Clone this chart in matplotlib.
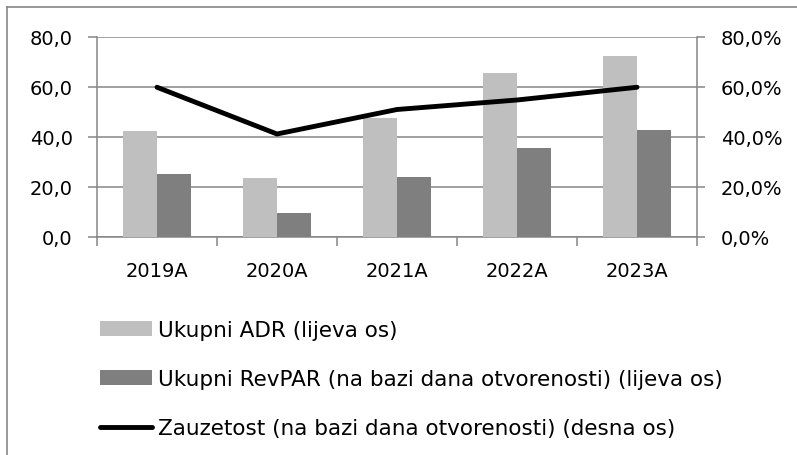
import matplotlib
matplotlib.use("Agg")
import matplotlib.pyplot as plt
from matplotlib.ticker import FuncFormatter, FixedLocator
from matplotlib.patches import Patch
from matplotlib.lines import Line2D
import numpy as np

categories = ["2019A", "2020A", "2021A", "2022A", "2023A"]
adr = [42.3, 23.7, 47.5, 65.5, 72.4]
revpar = [25.1, 9.6, 23.9, 35.6, 42.9]
occupancy = [59.9, 41.2, 51.0, 54.8, 59.9]
left_ticks = [0, 20, 40, 60, 80]
legend_labels = ["Ukupni ADR (lijeva os)",
                 "Ukupni RevPAR (na bazi dana otvorenosti) (lijeva os)",
                 "Zauzetost (na bazi dana otvorenosti) (desna os)"]

W, H = 797, 456
DPI = 100
plt.rcParams['font.family'] = ['DejaVu Sans']
fig = plt.figure(figsize=(W / DPI, H / DPI), dpi=DPI)

GRAY = "#868686"
C_ADR = "#BFBFBF"
C_REV = "#7F7F7F"

# outer frame (left and top borders visible)
fig.add_artist(plt.Line2D([7.5 / W, 7.5 / W], [0, 1 - 8 / H], transform=fig.transFigure,
                          color=GRAY, lw=1.2))
fig.add_artist(plt.Line2D([7.5 / W, 1.0], [1 - 8 / H, 1 - 8 / H], transform=fig.transFigure,
                          color=GRAY, lw=1.2))

x0, x1 = 97, 697
ytop, ybot = 38, 238
ax = fig.add_axes([x0 / W, (H - ybot) / H, (x1 - x0) / W, (ybot - ytop) / H])
ax2 = ax.twinx()

x = np.arange(len(categories))
bw = 1 / 3.5
ax.bar(x - bw / 2, adr, width=bw, color=C_ADR, zorder=3)
ax.bar(x + bw / 2, revpar, width=bw, color=C_REV, zorder=3)
ax2.plot(x, occupancy, color="black", lw=3.5, solid_capstyle="round",
         solid_joinstyle="round", zorder=4)

ax.set_xlim(-0.5, len(categories) - 0.5)
ax.set_ylim(0, 80)
ax2.set_ylim(0, 80)
ax.set_yticks(left_ticks)
ax2.set_yticks(left_ticks)
ax.yaxis.set_major_formatter(FuncFormatter(lambda v, p: f"{v:.1f}".replace(".", ",")))
ax2.yaxis.set_major_formatter(FuncFormatter(lambda v, p: f"{v:.1f}%".replace(".", ",")))
ax.grid(axis="y", color=GRAY, lw=1.1, zorder=0)
ax.set_axisbelow(True)

ax.set_xticks(x)
ax.set_xticklabels(categories)
ax.xaxis.set_minor_locator(FixedLocator(np.arange(-0.5, len(categories), 1.0)))
ax.tick_params(axis="x", which="major", length=0, pad=17, labelsize=14)
ax.tick_params(axis="x", which="minor", length=6.5, width=1.1, color=GRAY, direction="out")
ax.tick_params(axis="y", length=6.5, width=1.1, color=GRAY, pad=11, labelsize=14)
ax2.tick_params(axis="y", length=6, width=1.1, color=GRAY, pad=11, labelsize=14)

for a in (ax, ax2):
    a.spines["top"].set_visible(False)
    for s in ("left", "right", "bottom"):
        a.spines[s].set_color(GRAY)
        a.spines[s].set_linewidth(1.1)
ax2.spines["left"].set_visible(False)
ax2.spines["bottom"].set_visible(False)
ax.spines["right"].set_visible(False)

handles = [Patch(facecolor=C_ADR, edgecolor="none"),
           Patch(facecolor=C_REV, edgecolor="none"),
           Line2D([], [], color="black", lw=3.5, solid_capstyle="round")]
leg = fig.legend(handles, legend_labels, loc="upper left",
                 bbox_to_anchor=(100 / W, 1 - 321 / H), bbox_transform=fig.transFigure,
                 frameon=False, fontsize=15.5, handlelength=2.4, handleheight=0.65,
                 handletextpad=0.3, labelspacing=1.35, borderpad=0, borderaxespad=0)

fig.savefig("out.png", dpi=DPI)
